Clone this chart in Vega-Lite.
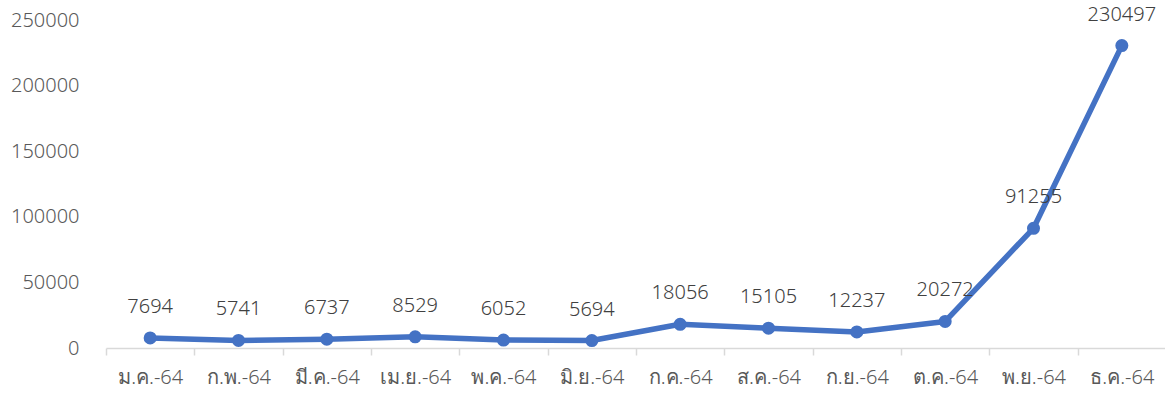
{
  "$schema": "https://vega.github.io/schema/vega-lite/v6.json",
  "width": 1060,
  "height": 328,
  "autosize": {"type": "none"},
  "padding": {"left": 106, "top": 20, "right": 0, "bottom": 49},
  "background": "white",
  "config": {"view": {"stroke": null}, "font": "Noto Sans"},
  "data": {
    "values": [
      {"month": "ม.ค.-64", "cases": 7694},
      {"month": "ก.พ.-64", "cases": 5741},
      {"month": "มี.ค.-64", "cases": 6737},
      {"month": "เม.ย.-64", "cases": 8529},
      {"month": "พ.ค.-64", "cases": 6052},
      {"month": "มิ.ย.-64", "cases": 5694},
      {"month": "ก.ค.-64", "cases": 18056},
      {"month": "ส.ค.-64", "cases": 15105},
      {"month": "ก.ย.-64", "cases": 12237},
      {"month": "ต.ค.-64", "cases": 20272},
      {"month": "พ.ย.-64", "cases": 91255},
      {"month": "ธ.ค.-64", "cases": 230497}
    ]
  },
  "encoding": {
    "x": {
      "field": "month",
      "type": "ordinal",
      "sort": null,
      "scale": {"paddingInner": 0, "paddingOuter": 0},
      "axis": {
        "title": null,
        "labelAngle": 0,
        "labelFontSize": 20,
        "labelFontWeight": 300,
        "labelColor": "#595959",
        "labelPadding": 12,
        "domainColor": "#d9d9d9",
        "domainWidth": 1.5,
        "tickColor": "#d9d9d9",
        "tickWidth": 1.5,
        "tickSize": 7,
        "tickBand": "extent",
        "grid": false
      }
    },
    "y": {
      "field": "cases",
      "type": "quantitative",
      "scale": {"domain": [0, 250000], "nice": false},
      "axis": {
        "title": null,
        "values": [0, 50000, 100000, 150000, 200000, 250000],
        "format": "d",
        "domain": false,
        "ticks": false,
        "grid": false,
        "labelFontSize": 20,
        "labelFontWeight": 300,
        "labelColor": "#595959",
        "labelPadding": 27
      }
    }
  },
  "layer": [
    {
      "mark": {"type": "line", "color": "#4472C4", "strokeWidth": 5.5, "strokeJoin": "round", "strokeCap": "round"}
    },
    {
      "mark": {"type": "point", "filled": true, "color": "#4472C4", "opacity": 1, "size": 170}
    },
    {
      "mark": {"type": "text", "dy": -31, "baseline": "middle", "fontSize": 20, "fontWeight": 300, "color": "#404040"},
      "encoding": {"text": {"field": "cases", "type": "quantitative", "format": "d"}}
    }
  ]
}
